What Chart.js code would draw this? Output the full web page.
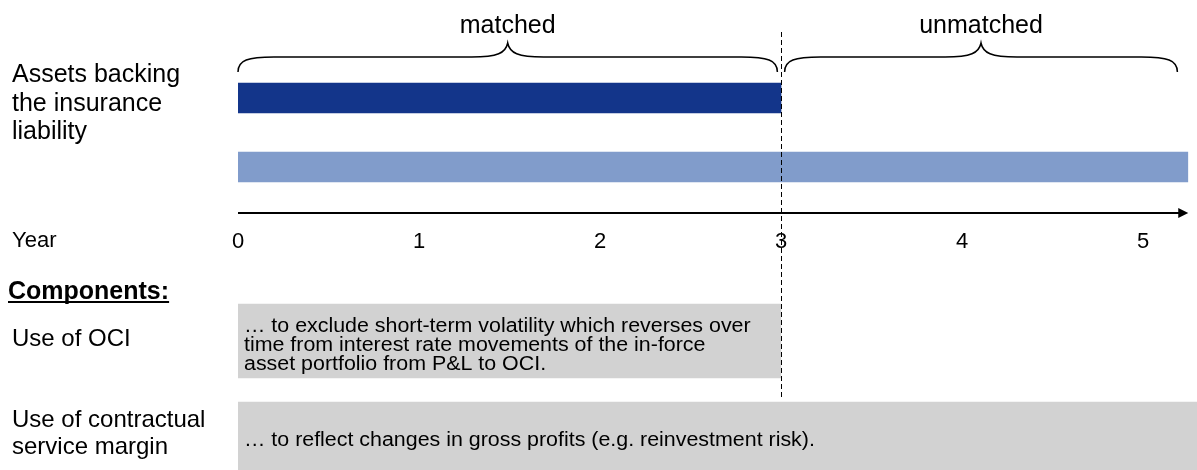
<!DOCTYPE html>
<html>
<head>
<meta charset="utf-8">
<script src="https://cdn.jsdelivr.net/npm/chart.js@4"></script>
<style>
html, body { margin: 0; padding: 0; background: #fff; overflow: hidden; }
#wrap { position: relative; width: 1197px; height: 470px; overflow: hidden; }
#wrap canvas { position: absolute; left: 0; top: 0; }
</style>
</head>
<body>
<div id="wrap">
  <canvas id="components" width="1197" height="490"></canvas>
  <canvas id="timeline" width="1197" height="470"></canvas>
</div>
<script>
// timeline rows (years)
const rowLabels = [['Assets backing', 'the insurance', 'liability'], 'Insurance liability'];
const rowRanges = [[0, 3], [0, 5.25]];
const rowColors = ['#13358a', '#819ccb'];
const yearTicks = [0, 1, 2, 3, 4, 5];
const axisEnd = 5.25;
const splitYear = 3;
const braceSpans = [[0, 2.98], [3.02, 5.19]];
const braceLabels = ['matched', 'unmatched'];

// components
const componentLabels = ['Use of OCI', ['Use of contractual', 'service margin']];
const componentRanges = [[0, 3], [0, 5.3]];
const componentTexts = [
  ['… to exclude short-term volatility which reverses over',
   'time from interest rate movements of the in-force',
   'asset portfolio from P&L to OCI.'],
  ['… to reflect changes in gross profits (e.g. reinvestment risk).']
];

const FONT = '"Liberation Sans", Arial, sans-serif';
Chart.defaults.font.family = FONT;
Chart.defaults.color = '#000';

function drawBrace(ctx, x0, x1, yEnd, yFlat, yTip) {
  const mid = (x0 + x1) / 2;
  const r = 36;
  ctx.beginPath();
  ctx.moveTo(x0, yEnd);
  ctx.bezierCurveTo(x0, yFlat + 3, x0 + 10, yFlat, x0 + r, yFlat);
  ctx.lineTo(mid - r, yFlat);
  ctx.bezierCurveTo(mid - 10, yFlat, mid - 2, yFlat - 4, mid, yTip);
  ctx.bezierCurveTo(mid + 2, yFlat - 4, mid + 10, yFlat, mid + r, yFlat);
  ctx.lineTo(x1 - r, yFlat);
  ctx.bezierCurveTo(x1 - 10, yFlat, x1, yFlat + 3, x1, yEnd);
  ctx.stroke();
}

const timelineDecor = {
  id: 'timelineDecor',
  afterDatasetsDraw(chart) {
    const { ctx, chartArea, scales: { x } } = chart;
    ctx.save();
    ctx.strokeStyle = '#000';
    ctx.fillStyle = '#000';

    // braces + labels
    ctx.lineWidth = 1.5;
    ctx.font = '25px ' + FONT;
    ctx.textAlign = 'center';
    ctx.textBaseline = 'alphabetic';
    braceSpans.forEach((s, i) => {
      const x0 = x.getPixelForValue(s[0]);
      const x1 = x.getPixelForValue(s[1]);
      drawBrace(ctx, x0, x1, 72, 57, 43);
      ctx.fillText(braceLabels[i], (x0 + x1) / 2, 33);
    });

    // axis arrow
    const ay = chartArea.bottom + 11.5;
    const ax0 = x.getPixelForValue(0);
    const ax1 = x.getPixelForValue(axisEnd);
    ctx.lineWidth = 2;
    ctx.beginPath();
    ctx.moveTo(ax0, ay);
    ctx.lineTo(ax1 - 8, ay);
    ctx.stroke();
    ctx.beginPath();
    ctx.moveTo(ax1, ay);
    ctx.lineTo(ax1 - 10, ay - 5);
    ctx.lineTo(ax1 - 10, ay + 5);
    ctx.closePath();
    ctx.fill();

    ctx.textAlign = 'left';
    ctx.font = '22px ' + FONT;
    ctx.fillText('Year', 12, 247);

    ctx.font = 'bold 25px ' + FONT;
    ctx.fillText('Components:', 8, 299);
    const w = ctx.measureText('Components:').width;
    ctx.fillRect(8, 301, w, 2);

    // dashed split at year 3
    const sx = Math.round(x.getPixelForValue(splitYear)) + 0.5;
    ctx.lineWidth = 1;
    ctx.setLineDash([5, 3]);
    ctx.beginPath();
    ctx.moveTo(sx, 32);
    ctx.lineTo(sx, 397);
    ctx.stroke();
    ctx.restore();
  }
};

const boxText = {
  id: 'boxText',
  afterDatasetsDraw(chart) {
    const ctx = chart.ctx;
    ctx.save();
    ctx.fillStyle = '#000';
    ctx.font = '20px ' + FONT;
    ctx.textAlign = 'left';
    ctx.textBaseline = 'alphabetic';
    chart.data.datasets.forEach((ds, di) => {
      chart.getDatasetMeta(di).data.forEach((bar, i) => {
        if (!ds.data[i]) return;
        const lines = componentTexts[i];
        const left = Math.min(bar.x, bar.base) + 6;
        lines.forEach((line, k) => {
          const y = bar.y + (k - (lines.length - 1) / 2) * 19.3 + 10;
          ctx.save();
          ctx.translate(left, y);
          ctx.scale(1.07, 1);
          ctx.fillText(line, 0, 0);
          ctx.restore();
        });
      });
    });
    ctx.restore();
  }
};

// fixed-size y axis without the extra label padding
function fixedYAxis(s) {
  s.width = 226;
  s.paddingTop = 0;
  s.paddingBottom = 0;
}

new Chart(document.getElementById('timeline').getContext('2d'), {
  type: 'bar',
  data: {
    labels: rowLabels,
    datasets: [{
      data: rowRanges,
      backgroundColor: rowColors,
      borderWidth: 0,
      borderSkipped: false,
      barThickness: 30
    }]
  },
  options: {
    indexAxis: 'y',
    responsive: false,
    animation: false,
    layout: { padding: { left: 12, right: 8.75, top: 63.5, bottom: 198.5 } },
    plugins: { legend: { display: false }, tooltip: { enabled: false } },
    scales: {
      x: {
        type: 'linear',
        min: 0,
        max: axisEnd,
        grid: { display: false },
        border: { display: false },
        afterBuildTicks: s => { s.ticks = yearTicks.map(v => ({ value: v })); },
        afterFit: s => { s.height = 70; },
        ticks: { font: { size: 22 }, padding: 19, color: '#000', maxRotation: 0, autoSkip: false }
      },
      y: {
        grid: { display: false },
        border: { display: false },
        afterFit: fixedYAxis,
        ticks: { crossAlign: 'far', labelOffset: 6, color: '#000', font: { size: 25, lineHeight: 1.14 } }
      }
    }
  },
  plugins: [timelineDecor]
});

new Chart(document.getElementById('components').getContext('2d'), {
  type: 'bar',
  data: {
    labels: componentLabels,
    datasets: componentRanges.map((r, i) => ({
      data: componentRanges.map((v, j) => (j === i ? v : null)),
      backgroundColor: '#d2d2d2',
      borderWidth: 0,
      borderSkipped: false,
      barThickness: i === 0 ? 74 : 68
    }))
  },
  options: {
    indexAxis: 'y',
    responsive: false,
    animation: false,
    grouped: false,
    layout: { padding: { left: 12, right: 0, top: 293.5, bottom: 6.5 } },
    plugins: { legend: { display: false }, tooltip: { enabled: false } },
    scales: {
      x: { type: 'linear', min: 0, max: 5.3, display: false },
      y: {
        grid: { display: false },
        border: { display: false },
        afterFit: fixedYAxis,
        ticks: { crossAlign: 'far', labelOffset: -2, color: '#000', font: { size: 24, lineHeight: 1.1 } }
      }
    }
  },
  plugins: [boxText]
});
</script>
</body>
</html>
